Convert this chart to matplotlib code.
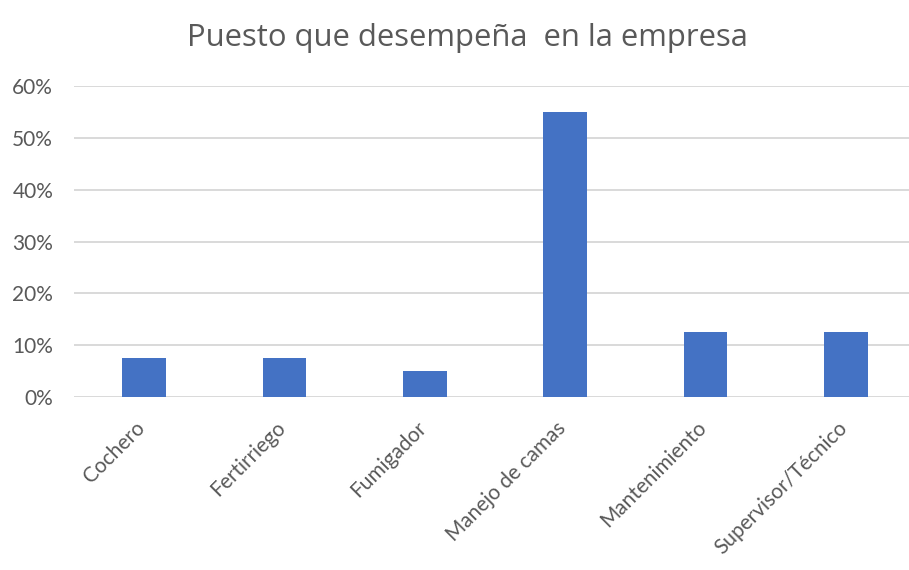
import matplotlib.pyplot as plt
import matplotlib.transforms as mtransforms
from matplotlib.ticker import PercentFormatter
import numpy as np

puestos = ['Cochero', 'Fertirriego', 'Fumigador', 'Manejo de camas',
           'Mantenimiento', 'Supervisor/Técnico']
porcentajes = [0.075, 0.075, 0.05, 0.55, 0.125, 0.125]
y_ticks = [0, 0.1, 0.2, 0.3, 0.4, 0.5, 0.6]

plt.rcParams['font.family'] = ['Lato', 'DejaVu Sans']

fig = plt.figure(figsize=(9.09, 5.70), dpi=100)
ax = fig.add_axes([0.0814, 0.3035, 0.9186, 0.5456])

x = np.arange(len(puestos))
ax.bar(x, porcentajes, width=0.31, color='#4472C4', zorder=3)

ax.set_xlim(-0.5, 5.45)
ax.set_ylim(0, 0.6)
ax.set_yticks(y_ticks)
ax.yaxis.set_major_formatter(PercentFormatter(1.0, decimals=0))
ax.grid(axis='y', color='#d9d9d9', linewidth=1.4, zorder=0)
for s in ax.spines.values():
    s.set_visible(False)
ax.tick_params(axis='both', length=0, colors='#595959', labelsize=15)
ax.tick_params(axis='y', pad=15)

ax.set_xticks(x)
ax.set_xticklabels(puestos, rotation=45, ha='right', va='top',
                   rotation_mode='anchor', fontsize=15, color='#595959')
ax.tick_params(axis='x', pad=12)
# nudge the slanted labels a bit down and to the left
shift = mtransforms.ScaledTranslation(-9 / 100, -4 / 100, fig.dpi_scale_trans)
for lbl in ax.get_xticklabels():
    lbl.set_transform(lbl.get_transform() + shift)

fig.text(0.514, 0.933, 'Puesto que desempeña  en la empresa', ha='center',
         va='center', fontsize=22.3, color='#595959', family='Open Sans')

fig.savefig('out.png', dpi=100)
